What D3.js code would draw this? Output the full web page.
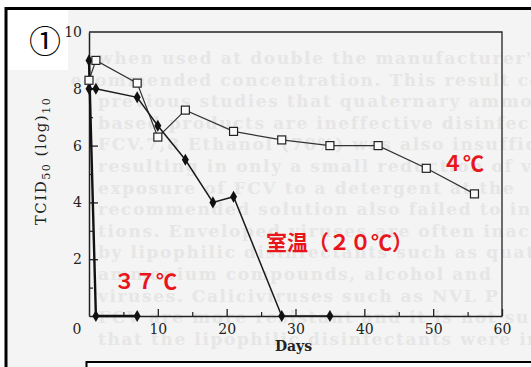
<!DOCTYPE html>
<html><head><meta charset="utf-8">
<script src="https://cdn.jsdelivr.net/npm/d3@7"></script>
<style>html,body{margin:0;padding:0;background:#fff;overflow:hidden}</style>
</head><body>
<svg id="c" width="531" height="367"></svg>
<script>
// ---- data ----
const days37 = [0, 1, 7];
const vals37 = [9.0, 0, 0];
const days20 = [0, 1, 7, 10, 14, 18, 21, 28, 35];
const vals20 = [8.0, 8.0, 7.7, 6.7, 5.5, 4.0, 4.2, 0, 0];
const days4 = [0, 1, 7, 10, 14, 21, 28, 35, 42, 49, 56];
const vals4 = [8.3, 9.0, 8.2, 6.3, 7.25, 6.5, 6.2, 6.0, 6.0, 5.2, 4.3];
const xMajor = [10, 20, 30, 40, 50, 60];
const xMinor = [5, 15, 25, 35, 45, 55];
const yMajor = [2, 4, 6, 8, 10];
const yMinor = [1, 3, 5, 7, 9];
const labels = {t4: "４℃", t20: "室温（２０℃）", t37: "３７℃", panel: "①", xTitle: "Days"};
const ghost = [
 "when used at double the manufacturer's",
 "recommended concentration. This result con",
 "previous studies that quaternary ammon",
 "based products are ineffective disinfectan",
 "FCV.7,8 Ethanol (70%) was also insuffic",
 "resulting in only a small reduction of viral",
 "exposure of FCV to a detergent at the",
 "recommended solution also failed to inactivat",
 "tions. Enveloped viruses are often inacti",
 "by lipophilic disinfectants such as quate",
 "ammonium compounds, alcohol and",
 "viruses. Caliciviruses such as NVL P",
 "FCV are more resistant and it is not surpr",
 "that the lipophilic disinfectants were ineffec"
];

const svg = d3.select("#c");
const x = d3.scaleLinear().domain([0, 60]).range([89, 502]);
const y = d3.scaleLinear().domain([0, 10]).range([316, 32]);

// frame background
svg.append("rect").attr("x", 6).attr("y", 8.5).attr("width", 530).attr("height", 365)
  .attr("fill", "#f4f4f4");
// faint bleed-through text of the scanned page
const defs = svg.append("defs");
defs.append("clipPath").attr("id", "fr").append("rect")
  .attr("x", 70).attr("y", 10).attr("width", 461).attr("height", 352);
const g0 = svg.append("g").attr("clip-path", "url(#fr)");
ghost.forEach((t, i) => {
  g0.append("text").attr("x", i === 1 ? 60 : 98).attr("y", 64 + i * 21.6)
    .attr("font-family", "DejaVu Serif").attr("font-size", 17).attr("font-weight", "bold")
    .attr("letter-spacing", 1.6).attr("fill", "#e6e6e6").text(t);
});
// outer borders
svg.append("line").attr("x1", 6).attr("x2", 531).attr("y1", 8.5).attr("y2", 8.5)
  .attr("stroke", "#000").attr("stroke-width", 3);
svg.append("line").attr("x1", 6).attr("x2", 6).attr("y1", 7).attr("y2", 367)
  .attr("stroke", "#000").attr("stroke-width", 3);
svg.append("rect").attr("x", 86.5).attr("y", 362).attr("width", 460).attr("height", 20)
  .attr("fill", "#fff").attr("stroke", "#000").attr("stroke-width", 2);

// panel label box
svg.append("rect").attr("x", 8).attr("y", 10).attr("width", 60).attr("height", 60).attr("fill", "#fff");
svg.append("text").attr("x", 45).attr("y", 53).attr("text-anchor", "middle")
  .attr("font-family", "Noto Sans CJK JP").attr("font-size", 32)
  .attr("fill", "#000").text(labels.panel);

// plot box (top & right)
svg.append("path").attr("d", `M${x(0)},${y(10)}H${x(60)}V${y(0)}`)
  .attr("fill", "none").attr("stroke", "#222").attr("stroke-width", 1.3);

const axFont = "DejaVu Serif";
// x axis
const xa = svg.append("g").attr("transform", `translate(0,${y(0)})`)
  .call(d3.axisBottom(x).tickValues(xMajor).tickSizeInner(-7).tickSizeOuter(0).tickPadding(8)
    .tickFormat(d3.format("d")));
xa.select(".domain").attr("stroke", "#222").attr("stroke-width", 1.5);
xa.selectAll(".tick line").attr("stroke", "#222").attr("stroke-width", 1.3);
xa.selectAll(".tick text").attr("font-family", axFont).attr("font-size", 14).attr("fill", "#222");
const xm = svg.append("g").attr("transform", `translate(0,${y(0)})`)
  .call(d3.axisBottom(x).tickValues(xMinor).tickSizeInner(-4).tickSizeOuter(0).tickFormat(""));
xm.select(".domain").remove();
xm.selectAll(".tick line").attr("stroke", "#222").attr("stroke-width", 1.2);
svg.append("text").attr("x", 77).attr("y", y(0) + 18).attr("text-anchor", "middle")
  .attr("font-family", axFont).attr("font-size", 14).attr("fill", "#222").text("0");

// y axis
const ya = svg.append("g").attr("transform", `translate(${x(0)},0)`)
  .call(d3.axisLeft(y).tickValues(yMajor).tickSizeInner(-9).tickSizeOuter(0).tickPadding(7)
    .tickFormat(d3.format("d")));
ya.select(".domain").attr("stroke", "#222").attr("stroke-width", 1.5);
ya.selectAll(".tick line").attr("stroke", "#222").attr("stroke-width", 1.3)
  .attr("display", d => d === 10 ? "none" : null);
ya.selectAll(".tick text").attr("font-family", axFont).attr("font-size", 14).attr("fill", "#222");
const ym = svg.append("g").attr("transform", `translate(${x(0)},0)`)
  .call(d3.axisLeft(y).tickValues(yMinor).tickSizeInner(-4).tickSizeOuter(0).tickFormat(""));
ym.select(".domain").remove();
ym.selectAll(".tick line").attr("stroke", "#222").attr("stroke-width", 1.2);

// axis titles
const yt = svg.append("text").attr("transform", `translate(46,161) rotate(-90)`)
  .attr("text-anchor", "middle").attr("font-family", axFont).attr("font-size", 15)
  .attr("letter-spacing", 1.5).attr("fill", "#222");
yt.append("tspan").text("TCID");
yt.append("tspan").attr("font-size", 11).attr("dy", 4).text("50");
yt.append("tspan").attr("dy", -4).text(" (log)");
yt.append("tspan").attr("font-size", 11).attr("dy", 4).text("10");
svg.append("text").attr("x", x(30) - 2).attr("y", 351).attr("text-anchor", "middle")
  .attr("font-family", axFont).attr("font-size", 14).attr("font-weight", "bold").attr("fill", "#222")
  .text(labels.xTitle);

// series
const line = d3.line().x(d => x(d[0])).y(d => y(d[1]));
const s4 = days4.map((d, i) => [d, vals4[i]]);
const s20 = days20.map((d, i) => [d, vals20[i]]);
const s37 = days37.map((d, i) => [d, vals37[i]]);
svg.append("path").datum(s4).attr("d", line).attr("fill", "none").attr("stroke", "#333").attr("stroke-width", 1.2);
svg.append("path").datum(s20).attr("d", line).attr("fill", "none").attr("stroke", "#1a1a1a").attr("stroke-width", 1.5);
svg.append("path").datum(s37).attr("d", line).attr("fill", "none").attr("stroke", "#111").attr("stroke-width", 2.4);

const diamond = d3.symbol().type(d3.symbolDiamond).size(42);
svg.selectAll(".d37").data(s37).join("path").attr("d", diamond)
  .attr("transform", d => `translate(${x(d[0])},${y(d[1])})`).attr("fill", "#111");
svg.selectAll(".d20").data(s20).join("path").attr("d", diamond)
  .attr("transform", d => `translate(${x(d[0])},${y(d[1])})`).attr("fill", "#111");
svg.selectAll(".sq4").data(s4).join("rect")
  .attr("x", d => x(d[0]) - 4).attr("y", d => y(d[1]) - 4).attr("width", 8).attr("height", 8)
  .attr("fill", "#fafafa").attr("stroke", "#222").attr("stroke-width", 1.2);

// red annotations
const red = "#e8151b";
const ann = (t, xx, yy) => svg.append("text").attr("x", xx).attr("y", yy)
  .attr("font-family", "Noto Sans CJK JP").attr("font-size", 21).attr("font-weight", "bold")
  .attr("fill", red).text(t);
ann(labels.t4, 442, 171);
ann(labels.t20, 266, 250);
ann(labels.t37, 114, 289);
</script>
</body></html>
